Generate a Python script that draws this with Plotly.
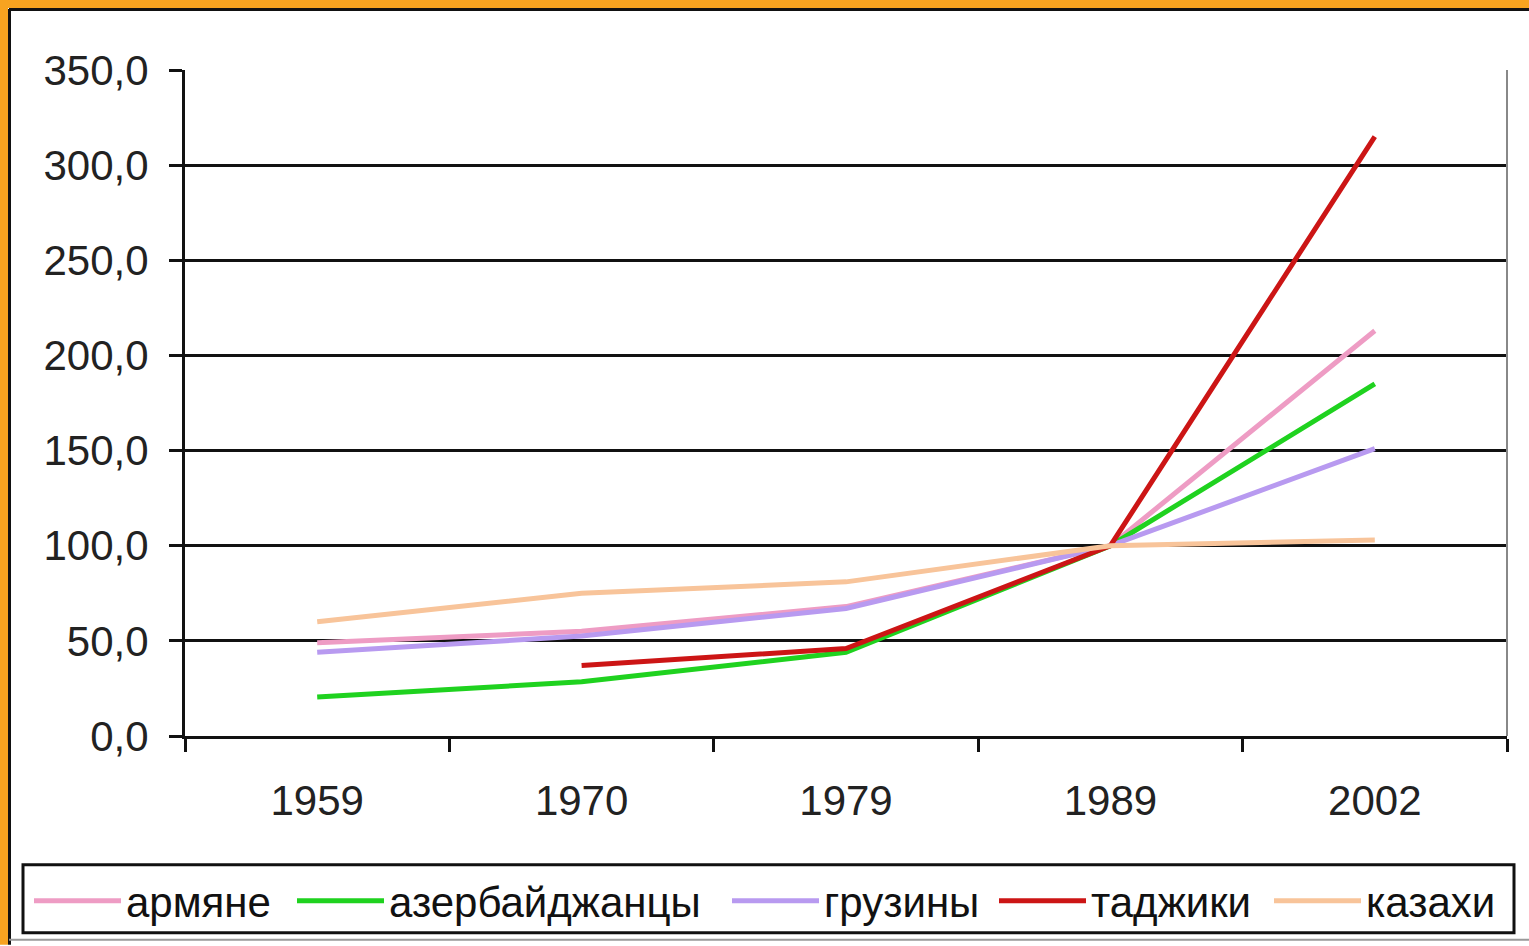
import plotly.graph_objects as go

years = ["1959", "1970", "1979", "1989", "2002"]
armyane = [49, 55, 68, 100, 213]
azerbaijantsy = [20.5, 28.5, 44, 100, 185]
gruziny = [44, 52.5, 67, 100, 151]
tadzhiki = [None, 37, 46, 100, 315]
kazakhi = [60, 75, 81, 100, 103]

series = [
    ("армяне", armyane, "#EE9CC4"),
    ("азербайджанцы", azerbaijantsy, "#1FD21F"),
    ("грузины", gruziny, "#B89AF0"),
    ("таджики", tadzhiki, "#CC1515"),
    ("казахи", kazakhi, "#F8C49A"),
]
legend_left_px = [29, 292, 727, 994, 1269]

W, H = 1529, 946
L, R, T, B = 185, 22, 70, 209
PW, PH = W - L - R, H - T - B


def px(x):
    return (x - L) / PW


def py(y):
    return (H - B - y) / PH


fig = go.Figure()
legend_layouts = {}
for i, (name, vals, col) in enumerate(series):
    lname = "legend" if i == 0 else f"legend{i + 1}"
    fig.add_trace(go.Scatter(
        x=years, y=vals, name=name, mode="lines",
        line=dict(color=col, width=5),
        connectgaps=False,
        legend=lname,
    ))
    legend_layouts[lname] = dict(
        orientation="h",
        x=px(legend_left_px[i]), xanchor="left",
        y=py(901), yanchor="middle",
        bgcolor="rgba(0,0,0,0)",
        borderwidth=0,
        font=dict(size=42, color="#111111",
                  family="Liberation Sans, Arial, sans-serif"),
        itemwidth=87,
    )

shapes = []
# orange frame strips and black inner line
shapes.append(dict(type="rect", xref="paper", yref="paper",
                   x0=px(0), x1=px(W), y0=py(0), y1=py(8),
                   fillcolor="#F7A320", line=dict(width=0), layer="above"))
shapes.append(dict(type="rect", xref="paper", yref="paper",
                   x0=px(0), x1=px(8), y0=py(0), y1=py(H),
                   fillcolor="#F7A320", line=dict(width=0), layer="above"))
shapes.append(dict(type="line", xref="paper", yref="paper",
                   x0=px(9), x1=px(W), y0=py(9.5), y1=py(9.5),
                   line=dict(color="#111111", width=3), layer="above"))
shapes.append(dict(type="line", xref="paper", yref="paper",
                   x0=px(9.5), x1=px(9.5), y0=py(9), y1=py(H),
                   line=dict(color="#111111", width=3), layer="above"))
shapes.append(dict(type="line", xref="paper", yref="paper",
                   x0=px(9), x1=px(W), y0=py(941), y1=py(941),
                   line=dict(color="#999999", width=2), layer="above"))
# right plot border
shapes.append(dict(type="line", xref="paper", yref="paper",
                   x0=1, x1=1, y0=0, y1=1,
                   line=dict(color="#888888", width=2), layer="above"))
# legend box
shapes.append(dict(type="rect", xref="paper", yref="paper",
                   x0=px(23), x1=px(1514), y0=py(866), y1=py(934),
                   fillcolor="rgba(0,0,0,0)", line=dict(color="#111111", width=3),
                   layer="above"))

fig.update_layout(
    width=W, height=H,
    margin=dict(l=L, r=R, t=T, b=B, pad=0),
    paper_bgcolor="white",
    plot_bgcolor="white",
    separators=", ",
    font=dict(family="Liberation Sans, Arial, sans-serif", color="#222222", size=42),
    showlegend=True,
    shapes=shapes,
    xaxis=dict(
        type="category",
        tickson="boundaries",
        ticks="outside", ticklen=13, tickwidth=3, tickcolor="#111111",
        showline=True, linecolor="#111111", linewidth=3,
        showgrid=False,
        ticklabelstandoff=26,
        tickfont=dict(size=42, color="#222222"),
        range=[-0.5, 4.5],
        fixedrange=True,
    ),
    yaxis=dict(
        range=[0, 350],
        dtick=50, tick0=0,
        tickformat=".1f",
        ticks="outside", ticklen=13, tickwidth=3, tickcolor="#111111",
        showline=True, linecolor="#111111", linewidth=3,
        showgrid=True, gridcolor="#111111", gridwidth=2.5,
        zeroline=False,
        ticklabelstandoff=12,
        tickfont=dict(size=42, color="#222222"),
    ),
    **legend_layouts,
)

fig.write_html("out.html",
               config={"displayModeBar": False},
               post_script="document.body.style.margin='0px';document.body.style.overflow='hidden';")
